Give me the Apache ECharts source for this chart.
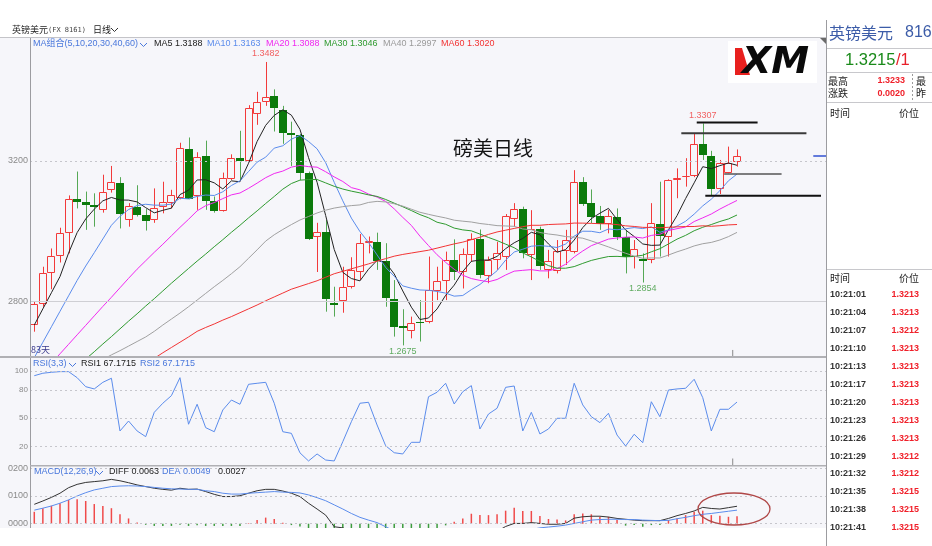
<!DOCTYPE html>
<html><head><meta charset="utf-8">
<script src="https://cdn.jsdelivr.net/npm/echarts@6/dist/echarts.min.js"></script>
<style>html,body{margin:0;padding:0;background:#fff}#c{width:932px;height:546px}</style>
</head><body><div id="c"></div>
<script>
// ---- daily candles (GBP/USD) ----
const opens = [1.2733,1.2792,1.2880,1.2930,1.2994,1.3093,1.3082,1.3076,1.3061,1.3118,1.3137,1.3032,1.3070,1.3046,1.3031,1.3070,1.3081,1.3096,1.3233,1.3099,1.3214,1.3085,1.3058,1.3148,1.3208,1.3201,1.3334,1.3368,1.3386,1.3345,1.3279,1.3274,1.3167,1.2985,1.2999,1.2795,1.2800,1.2842,1.2885,1.2966,1.2969,1.2916,1.2808,1.2730,1.2717,1.2743,1.2743,1.2831,1.2857,1.2918,1.2885,1.2932,1.2977,1.2873,1.2918,1.2928,1.3034,1.3062,1.2932,1.3005,1.2890,1.2887,1.2944,1.2942,1.3141,1.3080,1.3043,1.3021,1.3042,1.2983,1.2928,1.2921,1.2918,1.3021,1.2985,1.3146,1.3156,1.3156,1.3248,1.3214,1.3119,1.3167,1.3196];
const closes = [1.2792,1.2880,1.2930,1.2994,1.3093,1.3084,1.3074,1.3070,1.3112,1.3141,1.3048,1.3072,1.3045,1.3030,1.3067,1.3084,1.3103,1.3238,1.3093,1.3212,1.3087,1.3059,1.3151,1.3208,1.3200,1.3350,1.3369,1.3381,1.3350,1.3279,1.3274,1.3167,1.2978,1.2999,1.2806,1.2790,1.2842,1.2890,1.2966,1.2971,1.2916,1.2811,1.2728,1.2724,1.2740,1.2740,1.2833,1.2857,1.2918,1.2885,1.2934,1.2978,1.2875,1.2918,1.2937,1.3044,1.3062,1.2937,1.3005,1.2901,1.2914,1.2944,1.2975,1.3141,1.3078,1.3042,1.3021,1.3044,1.2983,1.2928,1.2949,1.2915,1.3024,1.2987,1.3146,1.3151,1.3157,1.3248,1.3217,1.3119,1.3193,1.3195,1.3215];
const lows = [1.2714,1.2785,1.2835,1.2911,1.2937,1.3065,1.3004,1.3013,1.3053,1.3110,1.3008,1.3013,1.3042,1.3002,1.3024,1.3051,1.3065,1.3091,1.3091,1.3061,1.3061,1.3053,1.3056,1.3146,1.3146,1.3198,1.3303,1.3357,1.3284,1.3249,1.3186,1.3146,1.2975,1.2884,1.2771,1.2757,1.2768,1.2837,1.2861,1.2937,1.2890,1.2785,1.2700,1.2675,1.2695,1.2686,1.2738,1.2804,1.2804,1.2861,1.2837,1.2913,1.2866,1.2852,1.2890,1.2890,1.3013,1.2923,1.2861,1.2890,1.2866,1.2880,1.2904,1.2937,1.3072,1.3023,1.3004,1.2994,1.2975,1.2880,1.2894,1.2854,1.2909,1.2928,1.2928,1.3094,1.3127,1.3154,1.3203,1.3103,1.3106,1.3165,1.3184];
const highs = [1.2801,1.2899,1.2951,1.3010,1.3102,1.3170,1.3113,1.3108,1.3161,1.3186,1.3154,1.3080,1.3131,1.3063,1.3122,1.3141,1.3118,1.3252,1.3267,1.3225,1.3258,1.3099,1.3167,1.3219,1.3286,1.3359,1.3397,1.3482,1.3404,1.3357,1.3312,1.3277,1.3170,1.3024,1.3032,1.2842,1.2899,1.2926,1.2992,1.2985,1.2996,1.2966,1.2861,1.2778,1.2757,1.2804,1.2928,1.2899,1.2942,1.2977,1.2951,1.2994,1.3005,1.2928,1.2970,1.3049,1.3080,1.3070,1.3060,1.3013,1.2947,1.2975,1.3004,1.3174,1.3154,1.3119,1.3072,1.3061,1.3065,1.3004,1.2975,1.2937,1.3080,1.3141,1.3148,1.3179,1.3208,1.3279,1.3307,1.3229,1.3203,1.3241,1.3233];

// moving-average values before enough visible bars exist
const ma5Early  = [1.2733,1.2779,1.2825,1.2871];
const ma10Early = [1.2640,1.2684,1.2728,1.2772,1.2816,1.2860,1.2901,1.2939,1.2978];
const ma20Early = [1.2570,1.2597,1.2624,1.2651,1.2678,1.2705,1.2732,1.2759,1.2786,1.2812,1.2839,1.2866,1.2892,1.2916,1.2940,1.2963,1.2987,1.3011,1.3034];
const ma30Early = [1.2506,1.2528,1.2549,1.2571,1.2592,1.2614,1.2636,1.2657,1.2679,1.2700,1.2722,1.2744,1.2765,1.2787,1.2808,1.2830,1.2852,1.2873,1.2894,1.2915,1.2935,1.2956,1.2976,1.2997,1.3017,1.3038,1.3058,1.3079,1.3099];
const ma40Early = [1.2532,1.2545,1.2558,1.2571,1.2583,1.2596,1.2609,1.2622,1.2635,1.2648,1.2660,1.2673,1.2686,1.2699,1.2715,1.2733,1.2750,1.2767,1.2785,1.2804,1.2823,1.2842,1.2860,1.2879,1.2899,1.2923,1.2947,1.2972,1.2990,1.3005,1.3019,1.3032,1.3042,1.3052,1.3060,1.3066,1.3070,1.3073,1.3075];
const ma60Early = [null,null,null,null,null,null,null,null,null,null,null,null,1.2608,1.2623,1.2638,1.2654,1.2669,1.2684,1.2699,1.2715,1.2726,1.2736,1.2747,1.2757,1.2768,1.2779,1.2790,1.2802,1.2813,1.2824,1.2835,1.2843,1.2851,1.2859,1.2869,1.2879,1.2886,1.2893,1.2900,1.2907,1.2915,1.2922,1.2929,1.2934,1.2938,1.2942,1.2946,1.2952,1.2958,1.2964,1.2969,1.2976,1.2983,1.2991,1.2998,1.3003,1.3008,1.3013,1.3017];

// RSI(3,3)
const rsi = [95.0,97.6,98.6,99.3,99.3,92.9,83.4,81.0,88.0,92.3,36.6,47.1,36.6,30.6,56.3,65.9,73.9,92.9,43.7,64.8,40.1,35.8,58.8,69.3,64.8,85.9,87.0,88.0,65.9,35.8,34.1,13.5,4.9,12.3,5.9,4.9,25.3,46.4,65.9,66.9,42.9,21.0,13.6,12.3,24.6,24.6,72.8,77.5,87.0,65.1,78.1,84.5,38.7,54.5,60.6,82.7,84.1,36.6,56.3,33.4,38.7,50.0,50.0,87.0,64.1,51.7,45.4,55.3,32.3,20.7,33.1,24.2,67.5,51.7,79.9,81.0,81.7,91.2,71.8,36.6,59.5,59.5,67.1715];

// MACD(12,26,9)
const macdDiff = [0.0070,0.0082,0.0095,0.0110,0.0130,0.0142,0.0149,0.0152,0.0155,0.0160,0.0155,0.0148,0.0140,0.0134,0.0128,0.0124,0.0121,0.0128,0.0124,0.0125,0.0116,0.0106,0.0098,0.0098,0.0101,0.0110,0.0119,0.0124,0.0124,0.0118,0.0110,0.0098,
 0.0074,0.0053,0.0031,-0.0011,-0.0015,-0.0027,-0.0033,-0.0030,-0.0035,-0.0065,-0.0085,-0.0098,-0.0102,-0.0104,-0.0095,-0.0085,-0.0076,-0.0070,-0.0060,-0.0049,-0.0045,-0.0037,-0.0028,-0.0010,0.0001,0.0001,0.0004,0.0001,-0.0002,-0.0002,0.0001,
 0.0020,0.0025,0.0027,0.0027,0.0024,0.0019,0.0016,0.0013,0.0011,0.0011,0.0011,0.0019,0.0029,0.0037,0.0046,0.0059,0.0055,0.0053,0.0058,0.0063];
const macdDea = [0.0049,0.0056,0.0064,0.0074,0.0086,0.0100,0.0112,0.0122,0.0128,0.0134,0.0136,0.0137,0.0136,0.0134,0.0131,0.0128,0.0126,0.0125,0.0124,0.0124,0.0119,0.0116,0.0110,0.0107,0.0107,0.0110,0.0112,0.0114,0.0116,0.0114,0.0113,0.0111,
 0.0104,0.0094,0.0083,0.0068,0.0053,0.0037,0.0023,0.0013,0.0004,-0.0011,-0.0026,-0.0040,-0.0052,-0.0062,-0.0069,-0.0072,-0.0073,-0.0072,-0.0070,-0.0066,-0.0062,-0.0057,-0.0051,-0.0043,-0.0034,-0.0027,-0.0021,-0.0015,-0.0012,-0.0009,-0.0005,
 0.0001,0.0007,0.0013,0.0015,0.0016,0.0016,0.0015,0.0015,0.0013,0.0012,0.0011,0.0012,0.0018,0.0023,0.0029,0.0034,0.0037,0.0041,0.0045,0.0049];
const macdHist = [0.0043,0.0056,0.0065,0.0074,0.0086,0.0088,0.0082,0.0071,0.0064,0.0056,0.0034,0.0019,0.0004,-0.0004,-0.0008,-0.0008,-0.0008,-0.0004,-0.0008,-0.0006,-0.0008,-0.0008,-0.0008,-0.0008,-0.0008,0.0002,0.0013,0.0022,0.0017,0.0003,-0.0005,-0.0010,
 -0.0060,-0.0082,-0.0104,-0.0158,-0.0136,-0.0128,-0.0112,-0.0086,-0.0078,-0.0108,-0.0118,-0.0116,-0.0100,-0.0084,-0.0052,-0.0026,-0.0006,
 0.0007,0.0019,0.0036,0.0031,0.0031,0.0034,0.0047,0.0058,0.0046,0.0046,0.0028,0.0017,0.0015,0.0012,
 0.0034,0.0037,0.0034,0.0025,0.0025,0.0013,-0.0007,-0.0005,-0.0011,-0.0005,-0.0005,0.0013,0.0019,0.0031,0.0043,0.0047,0.0031,0.0029,0.0025,0.0027];

// tick labels
const priceTicks = [1.28, 1.32];
const rsiTicks = [20, 50, 80, 100];
const macdTicks = [0, 0.01, 0.02];

// labelled extremes
const extremeIdx = [27, 43, 78, 71];
const extremeVal = [1.3482, 1.2675, 1.3307, 1.2854];
const extremeHigh = [true, false, true, false];

// hand-drawn horizontal levels: price, from bar, to bar
const levelPrice = [1.3310, 1.3279, 1.3163, 1.3101];
const levelFrom  = [77.3, 75.5, 80.5, 78.3];
const levelTo    = [84.4, 90.1, 87.2, 91.8];
const levelColor = ['#111111', '#3a3a3a', '#555555', '#111111'];
const levelWidth = [2, 2, 1.5, 2];
const refLine = 1.2850;
const lastPrice = 1.3214;

// legend texts
const maNames = ['MA5','MA10','MA20','MA30','MA40','MA60'];
const maLegendValues = ['1.3188','1.3163','1.3088','1.3046','1.2997','1.3020'];
const maColors = ['#222222','#5b8cec','#f028f0','#2f9a2f','#a0a0a0','#f23434'];

// right panel tick list
const tickTimes = ['10:21:01','10:21:04','10:21:07','10:21:10','10:21:13','10:21:17','10:21:20','10:21:23','10:21:26','10:21:29','10:21:32','10:21:35','10:21:38','10:21:41'];
const tickPrices = ['1.3213','1.3213','1.3212','1.3213','1.3213','1.3213','1.3213','1.3213','1.3213','1.3212','1.3212','1.3215','1.3215','1.3215'];

// ------------------------------------------------------------------
const FONT = "'Liberation Sans', 'Noto Sans CJK SC', sans-serif";
const CJK = "'Noto Sans CJK SC', 'Liberation Sans', sans-serif";
const BG = '#f6f6fa';
const UP = '#f23a3a', DOWN = '#0b7a0b', DOWN_WICK = '#55a855';
const BLUE = '#5b8cec', LEG_BLUE = '#4a78dc';

function ma(n, early) {
  return closes.map((c, i) => {
    if (i < n - 1) return early[i];
    let s = 0; for (let k = i - n + 1; k <= i; k++) s += closes[k];
    return +(s / n).toFixed(5);
  });
}
const maData = [ma(5, ma5Early), ma(10, ma10Early), ma(20, ma20Early), ma(30, ma30Early), ma(40, ma40Early), ma(60, ma60Early)];

const chart = echarts.init(document.getElementById('c'), null, {renderer: 'canvas'});

function lineS(name, arr, color, g, z) {
  return {type: 'line', name, xAxisIndex: g, yAxisIndex: g, data: arr.map((v, i) => [i, v]),
    showSymbol: false, symbol: 'none', silent: true, z: z || 3,
    lineStyle: {color, width: 1}, emphasis: {disabled: true}};
}
function gridMarks(g, values, z) {
  return {type: 'line', xAxisIndex: g, yAxisIndex: g, data: [], showSymbol: false, silent: true, z: z || 1,
    markLine: {silent: true, symbol: ['none', 'none'], label: {show: false}, animation: false,
      lineStyle: {color: '#c6c6cc', width: 1, type: [2, 3]},
      data: values.map(v => ({yAxis: v}))}};
}

const candleData = closes.map((c, i) => [i, opens[i], c, lows[i], highs[i]]);

const series = [];
const mainGrid = gridMarks(0, priceTicks, 1);
mainGrid.markLine.data.push({yAxis: refLine, lineStyle: {type: 'solid', color: '#cfcfd4', width: 1}});
series.push(mainGrid);
series.push({
  type: 'custom', xAxisIndex: 0, yAxisIndex: 0, z: 2, silent: true,
  data: candleData, encode: {x: 0, y: [1, 2, 3, 4]},
  renderItem: function (params, api) {
    const i = api.value(0), o = api.value(1), c = api.value(2), l = api.value(3), h = api.value(4);
    const po = api.coord([i, o]), pc = api.coord([i, c]), pl = api.coord([i, l]), ph = api.coord([i, h]);
    const cx = Math.round(po[0]);
    const up = c >= o;
    let top = Math.round(Math.min(po[1], pc[1])), bot = Math.round(Math.max(po[1], pc[1]));
    if (bot - top < 1) bot = top + 1;
    const wc = up ? UP : DOWN_WICK;
    const ch = [
      {type: 'line', shape: {x1: cx + 0.5, y1: ph[1], x2: cx + 0.5, y2: top}, style: {stroke: wc, lineWidth: 1}},
      {type: 'line', shape: {x1: cx + 0.5, y1: bot, x2: cx + 0.5, y2: pl[1]}, style: {stroke: wc, lineWidth: 1}}
    ];
    if (up) ch.push({type: 'rect', shape: {x: cx - 3.5, y: top + 0.5, width: 7, height: Math.max(bot - top - 1, 0)}, style: {fill: BG, stroke: UP, lineWidth: 1}});
    else ch.push({type: 'rect', shape: {x: cx - 4, y: top, width: 8, height: bot - top}, style: {fill: DOWN}});
    return {type: 'group', children: ch};
  }
});
maData.forEach((d, k) => series.push(lineS(maNames[k], d, maColors[k], 0, 3)));
levelPrice.forEach((p, k) => series.push({type: 'line', xAxisIndex: 0, yAxisIndex: 0, data: [[levelFrom[k], p], [levelTo[k], p]],
  showSymbol: false, symbol: 'none', silent: true, z: 6, lineStyle: {color: levelColor[k], width: levelWidth[k]}}));
series.push({type: 'line', xAxisIndex: 0, yAxisIndex: 0, data: [[90.9, lastPrice], [92.5, lastPrice]],
  showSymbol: false, symbol: 'none', silent: true, z: 6, lineStyle: {color: '#3050d0', width: 1.5}});
series.push({type: 'line', xAxisIndex: 0, yAxisIndex: 0, data: [[81.5, 1.26448], [81.5, 1.2662]], showSymbol: false, symbol: 'none', silent: true, z: 6, lineStyle: {color: '#8a8a8a', width: 1}});
series.push({type: 'line', xAxisIndex: 1, yAxisIndex: 1, data: [[81.5, 0], [81.5, 7.5]], showSymbol: false, symbol: 'none', silent: true, z: 6, lineStyle: {color: '#8a8a8a', width: 1}});
series.push({type: 'scatter', xAxisIndex: 0, yAxisIndex: 0, symbolSize: 1, silent: true, z: 7,
  itemStyle: {color: 'rgba(0,0,0,0)'},
  data: extremeIdx.map((ix, k) => ({value: [ix, extremeVal[k]],
    label: {show: true, position: extremeHigh[k] ? 'top' : 'bottom', distance: extremeHigh[k] ? 3 : 1,
      color: extremeHigh[k] ? '#f03a3a' : '#3a983a', fontSize: 9, fontFamily: FONT,
      formatter: p => p.value[1].toFixed(4)}}))
});
series.push(gridMarks(1, rsiTicks, 1));
series.push(lineS('RSI', rsi, BLUE, 1, 3));
series.push(gridMarks(2, macdTicks, 1));
series.push({type: 'bar', xAxisIndex: 2, yAxisIndex: 2, barWidth: 1.5, silent: true, z: 2,
  data: macdHist.map((v, i) => [i, v]),
  itemStyle: {color: p => p.value[1] >= 0 ? '#f04a4a' : '#3c9c3c'}});
series.push(lineS('DIFF', macdDiff, '#333333', 2, 3));
series.push(lineS('DEA', macdDea, BLUE, 2, 3));

function yAx(g, min, max, ticks, fmt, size) {
  return {type: 'value', gridIndex: g, min, max, scale: true,
    splitLine: {show: false}, axisLine: {show: false}, axisTick: {show: false},
    axisLabel: {customValues: ticks, formatter: fmt, color: '#8a8a8a', fontSize: size, fontFamily: FONT, margin: 2}};
}

function T(x, y, text, fill, font, align, z) {
  return {type: 'text', x, y, z: z || 100, silent: true, style: {text, fill, font, align: align || 'left', verticalAlign: 'middle'}};
}
function L(x1, y1, x2, y2, stroke, lw, dash, z) {
  return {type: 'line', z: z || 90, silent: true, shape: {x1, y1, x2, y2}, style: {stroke, lineWidth: lw || 1, lineDash: dash || null}};
}
function R(x, y, w, h, fill, z) {
  return {type: 'rect', z: z == null ? 90 : z, silent: true, shape: {x, y, width: w, height: h}, style: {fill}};
}
function chevron(x, y, color) {
  return {type: 'polyline', z: 100, silent: true, shape: {points: [[x, y - 2], [x + 3.5, y + 1.5], [x + 7, y - 2]]}, style: {stroke: color, lineWidth: 1, fill: null}};
}
const g = [];
g.push(R(0, 37, 826, 491, BG, -10));
g.push(T(12, 30, '英镑美元', '#222', '9px ' + CJK));
g.push(T(48, 30, '(FX 8161)', '#444', "7px 'DejaVu Sans Mono', monospace"));
g.push(T(93, 30, '日线', '#222', '9px ' + CJK));
g.push(chevron(111, 30, '#333'));
g.push(L(0, 37.5, 826, 37.5, '#c4c4c8', 1));
g.push(L(30.5, 38, 30.5, 528, '#9c9ca0', 1));
g.push(R(0, 356, 826, 2, '#b0b0b4'));
g.push(R(30, 465, 796, 1.5, '#b0b0b4'));
g.push(T(33, 44, 'MA组合(5,10,20,30,40,60)', LEG_BLUE, '9px ' + FONT));
g.push(chevron(140, 45, LEG_BLUE));
const maX = [154, 207, 266, 324, 383, 441];
maNames.forEach((n, k) => g.push(T(maX[k], 44, n + ' ' + maLegendValues[k], maColors[k] === '#a0a0a0' ? '#9a9a9a' : maColors[k], '9px ' + FONT)));
const rsiLast = rsi[rsi.length - 1].toFixed(4);
g.push(T(33, 364, 'RSI(3,3)', LEG_BLUE, '9px ' + FONT));
g.push(chevron(69, 365, LEG_BLUE));
g.push(T(81, 364, 'RSI1 ' + rsiLast, '#222', '9px ' + FONT));
g.push(T(140, 364, 'RSI2 ' + rsiLast, LEG_BLUE, '9px ' + FONT));
g.push(T(34, 472, 'MACD(12,26,9)', LEG_BLUE, '9px ' + FONT));
g.push(chevron(96, 473, LEG_BLUE));
g.push(T(109, 472, 'DIFF ' + macdDiff[macdDiff.length - 1].toFixed(4), '#222', '9px ' + FONT));
g.push(T(162, 472, 'DEA ' + macdDea[macdDea.length - 1].toFixed(4), LEG_BLUE, '9px ' + FONT));
g.push(T(218, 472, macdHist[macdHist.length - 1].toFixed(4), '#222', '9px ' + FONT));
g.push(T(453, 148, '磅美日线', '#141414', '20px ' + CJK));
g.push(T(31, 350, '83天', '#3a3a8c', '9px ' + CJK));
g.push(R(728, 41, 89, 42, '#ffffff', 95));
g.push({type: 'polygon', z: 96, silent: true, shape: {points: [[735, 48], [742, 48], [750, 75], [735, 75]]}, style: {fill: '#e8201e'}});
g.push({type: 'text', x: 742, y: 63, z: 97, silent: true, style: {text: 'XM', fill: '#0a0a0a', font: "italic bold 38px 'DejaVu Sans', sans-serif", align: 'left', verticalAlign: 'middle'}});
g.push({type: 'ellipse', z: 100, silent: true, shape: {cx: 734, cy: 509, rx: 36, ry: 16}, style: {stroke: '#b04848', lineWidth: 1.3, fill: null}});
g.push(R(0, 528, 826, 18, '#ffffff', 200));
g.push(L(826.5, 20, 826.5, 546, '#9c9ca0', 1, null, 210));
g.push({type: 'polygon', z: 100, silent: true, shape: {points: [[820, 38], [826, 38], [826, 44]]}, style: {fill: '#6a6a6a'}});
g.push(T(829, 33, '英镑美元', '#3c5ca8', '16px ' + CJK));
g.push(T(905, 33, '8161', '#3c5ca8', '16px ' + FONT));
g.push(L(827, 48.5, 932, 48.5, '#c8c8cc', 1));
g.push(T(845, 60, '1.3215', '#1a8a1a', '16.5px ' + FONT));
g.push(T(896, 60, '/1', '#e8202a', '16.5px ' + FONT));
g.push(L(827, 72.5, 932, 72.5, '#c8c8cc', 1));
g.push(T(828, 81, '最高', '#222', '10px ' + CJK));
g.push(T(905, 81, '1.3233', '#f0202a', 'bold 9px ' + FONT, 'right'));
g.push(T(828, 93.5, '涨跌', '#222', '10px ' + CJK));
g.push(T(905, 93.5, '0.0020', '#f0202a', 'bold 9px ' + FONT, 'right'));
g.push(L(912.5, 74, 912.5, 101, '#9a9a9a', 1, [2, 2]));
g.push(T(916, 81, '最', '#222', '10px ' + CJK));
g.push(T(916, 93.5, '昨', '#222', '10px ' + CJK));
g.push(L(827, 102.5, 932, 102.5, '#c8c8cc', 1));
g.push(T(830, 113.5, '时间', '#222', '10px ' + CJK));
g.push(T(919, 113.5, '价位', '#222', '10px ' + CJK, 'right'));
g.push(L(827, 269.5, 932, 269.5, '#c8c8cc', 1));
g.push(T(830, 278.5, '时间', '#222', '10px ' + CJK));
g.push(T(919, 278.5, '价位', '#222', '10px ' + CJK, 'right'));
tickTimes.forEach((t, k) => {
  const y = 295 + k * 17.9;
  g.push(T(830, y, t, '#333', 'bold 9px ' + FONT));
  g.push(T(919, y, tickPrices[k], '#f0202a', 'bold 9px ' + FONT, 'right'));
});
g.push(R(827, 530, 105, 16, '#ffffff', 205));

chart.setOption({
  animation: false,
  backgroundColor: '#ffffff',
  textStyle: {fontFamily: FONT},
  grid: [
    {left: 30, right: 105, top: 37, height: 319, show: false},
    {left: 30, right: 105, top: 358, height: 107.6, show: false},
    {left: 30, right: 105, top: 466, height: 62, show: false}
  ],
  xAxis: [0, 1, 2].map(i => ({type: 'value', gridIndex: i, min: -0.5, max: 92.5, show: false})),
  yAxis: [
    yAx(0, 1.26448, 1.35531, priceTicks, v => v.toFixed(4).slice(2), 9),
    yAx(1, 0, 113.7, rsiTicks, v => String(v), 8),
    yAx(2, -0.00155, 0.02083, macdTicks, v => v.toFixed(4).slice(2), 9)
  ],
  series,
  graphic: g
});
</script>
</body></html>
